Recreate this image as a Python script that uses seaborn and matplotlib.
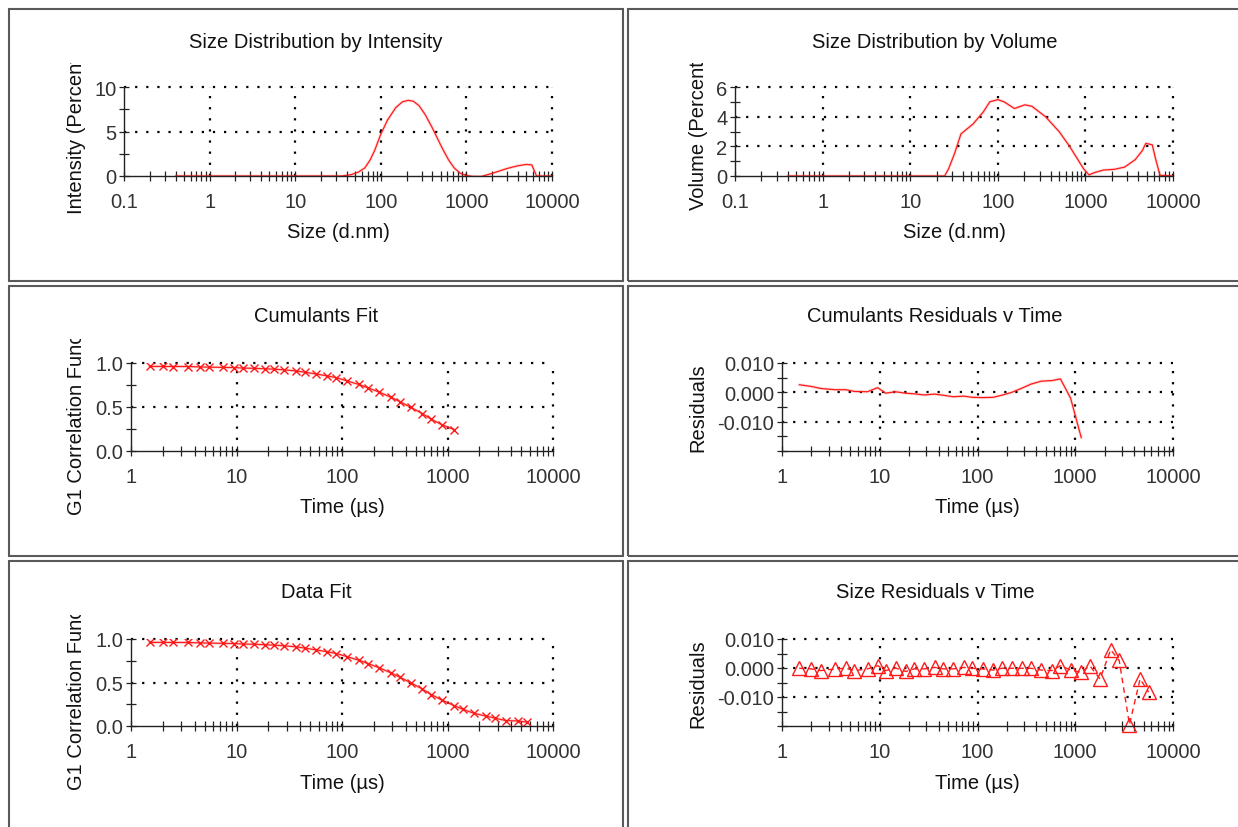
import matplotlib
matplotlib.use("Agg")
import matplotlib.pyplot as plt
import seaborn as sns
import numpy as np
from matplotlib.patches import Rectangle
from matplotlib.transforms import Bbox
from matplotlib.ticker import FixedLocator, FuncFormatter, NullFormatter, LogLocator

# ---- data ----
size_int = [0.4, 1, 10, 35, 45, 55, 65, 75, 85, 100, 120, 150, 180, 210, 240, 280, 330,
            400, 460, 530, 620, 720, 850, 1000, 1200, 1500, 2000, 2500, 3000, 4000, 5000,
            5800, 6600, 7000, 10000]
intensity = [0, 0, 0, 0, 0.15, 0.45, 0.9, 1.8, 2.9, 4.7, 6.3, 7.7, 8.35, 8.5, 8.4, 7.9, 6.9,
             5.4, 4.2, 3.0, 1.8, 0.9, 0.3, 0.05, -0.05, -0.05, 0.3, 0.6, 0.85, 1.15, 1.3,
             1.25, 0.0, 0, 0]

size_vol = [0.4, 10, 24.7, 27.5, 32, 38, 52, 68, 81, 100, 118, 155, 204, 245, 350, 500, 660,
            950, 1100, 1230, 1600, 2140, 2800, 3700, 4450, 4900, 5800, 6300, 7100, 10000]
volume = [0, 0, 0, 0.5, 1.5, 2.84, 3.5, 4.3, 5.0, 5.15, 5.0, 4.55, 4.8, 4.7, 4.0, 3.0, 2.0,
          0.5, 0.07, 0.2, 0.4, 0.45, 0.6, 1.1, 1.7, 2.2, 2.1, 1.2, 0.05, 0]

corr_time = [1.5, 2, 2.5, 3.5, 4.5, 5.5, 7.5, 9.5, 11.5, 14.5, 18.5, 22.5, 28.5, 36.5, 44.5,
             56.5, 72.5, 88.5, 112.5, 144.5, 176.5, 224.5, 288.5, 352.5, 448.5, 576.5, 704.5,
             896.5, 1152.5, 1408.5, 1792.5, 2304.5, 2816.5, 3584.5, 4608.5, 5632.5]

cum_fit = [0.961, 0.961, 0.960, 0.960, 0.955, 0.953, 0.950, 0.948, 0.942, 0.940, 0.934, 0.930,
           0.922, 0.910, 0.895, 0.876, 0.853, 0.833, 0.795, 0.756, 0.717, 0.670, 0.612, 0.562,
           0.496, 0.426, 0.360, 0.295, 0.244]

data_fit = [0.961, 0.961, 0.960, 0.960, 0.955, 0.953, 0.950, 0.948, 0.942, 0.940, 0.934, 0.930,
            0.922, 0.910, 0.895, 0.876, 0.853, 0.833, 0.795, 0.756, 0.717, 0.670, 0.612, 0.562,
            0.496, 0.426, 0.360, 0.295, 0.235, 0.19, 0.145, 0.115, 0.09, 0.062, 0.058, 0.045]

cum_resid = [0.0026, 0.0020, 0.0013, 0.0009, 0.0009, 0.0003, 0.0002, 0.0016, -0.0003, 0.0002,
             -0.0003, -0.0005, -0.0009, -0.0006, -0.0010, -0.0015, -0.0013, -0.0017, -0.0018,
             -0.0017, -0.0010, 0.0000, 0.0015, 0.0028, 0.0038, 0.0040, 0.0046, -0.0020, -0.0155]

size_resid = [-0.0001, -0.0003, -0.0009, -0.0003, -0.0001, -0.0009, -0.0003, 0.0008, -0.0009,
              0.0, -0.0012, -0.0003, -0.0003, 0.0002, -0.0003, -0.0003, 0.0002, -0.0001,
              -0.0003, -0.0007, -0.0001, -0.0001, -0.0001, -0.0001, -0.0007, -0.0009, 0.0008,
              -0.0007, -0.0015, 0.0008, -0.0038, 0.0063, 0.0026, -0.0195, -0.0038, -0.0083]

size_ticks = [0.1, 1, 10, 100, 1000, 10000]
time_ticks = [1, 10, 100, 1000, 10000]

int_yticks, int_ylabels, int_yminor = [0, 5, 10], ["0", "5", "10"], [2.5, 7.5]
vol_yticks, vol_ylabels, vol_yminor = [0, 2, 4, 6], ["0", "2", "4", "6"], [1, 3, 5]
g1_yticks, g1_ylabels, g1_yminor = [0, 0.5, 1.0], ["0.0", "0.5", "1.0"], [0.25, 0.75]
res_yticks, res_ylabels, res_yminor = [-0.01, 0, 0.01], ["-0.010", "0.000", "0.010"], [-0.02, -0.015, -0.005, 0.005]

titles = ["Size Distribution by Intensity", "Size Distribution by Volume",
          "Cumulants Fit", "Cumulants Residuals v Time",
          "Data Fit", "Size Residuals v Time"]
ylabels = ["Intensity (Percent)", "Volume (Percent)",
           "G1 Correlation Function", "Residuals",
           "G1 Correlation Function", "Residuals"]
xlabels = ["Size (d.nm)", "Size (d.nm)", "Time (\u00b5s)", "Time (\u00b5s)", "Time (\u00b5s)", "Time (\u00b5s)"]

# ---- style ----
sns.set_style("white")
plt.rcParams["font.family"] = ["Liberation Sans", "DejaVu Sans"]
RED = "#ff1a1a"
FS = 14.5

W, H = 1238, 828
fig = plt.figure(figsize=(W / 100, H / 100), dpi=100)
fig.patch.set_facecolor("white")

# panel boxes (left, top, right, bottom) in pixels
boxes = [(9, 10, 623, 282), (628, 10, 1242, 282),
         (9, 287, 623, 557), (628, 287, 1242, 557),
         (9, 562, 623, 840), (628, 562, 1242, 840)]
# axes areas in pixels
areas = [(124, 88, 552, 177), (735, 88, 1173, 177),
         (131, 364, 553, 452), (782, 364, 1173, 452),
         (131, 640, 553, 727), (782, 640, 1173, 727)]
title_y = [42, 42, 317, 317, 593, 593]
xlabel_y = [233, 233, 508, 508, 784, 784]
ylabel_x = [76, 698, 76, 698, 76, 698]


def px_axes(l, t, r, b):
    return fig.add_axes([l / W, 1 - b / H, (r - l) / W, (b - t) / H])


def style(ax, xlim, xticks, ylim, yticks, ylabs, yminor):
    ax.set_xscale("log")
    ax.set_xlim(*xlim)
    ax.set_ylim(*ylim)
    ax.xaxis.set_major_locator(FixedLocator(xticks))
    ax.xaxis.set_minor_locator(LogLocator(base=10, subs=np.arange(2, 10), numticks=20))
    ax.xaxis.set_major_formatter(FuncFormatter(lambda v, p: f"{v:g}"))
    ax.xaxis.set_minor_formatter(NullFormatter())
    ax.yaxis.set_major_locator(FixedLocator(yticks))
    ax.set_yticklabels(ylabs)
    ax.yaxis.set_minor_locator(FixedLocator(yminor))
    ax.grid(False)
    for s in ["top", "right"]:
        ax.spines[s].set_visible(False)
    for s in ["left", "bottom"]:
        ax.spines[s].set_color("#222222")
        ax.spines[s].set_linewidth(1.0)
    ax.tick_params(which="both", bottom=True, left=True, top=False, right=False,
                   direction="inout", length=7, width=0.9, color="#222222")
    ax.tick_params(axis="x", which="major", pad=8, labelsize=FS, labelcolor="#333333")
    ax.tick_params(axis="y", which="major", pad=2, labelsize=FS, labelcolor="#333333")
    dot = (0, (1, 4))
    for xv in xticks[1:]:
        ax.axvline(xv, color="black", lw=1.6, ls=dot, clip_on=False, zorder=0.5)
    for yv in yticks:
        if yv > ylim[0]:
            ax.axhline(yv, color="black", lw=1.6, ls=dot, clip_on=False, zorder=0.5)


def red_line(ax, x, y, **kw):
    sns.lineplot(x=x, y=y, ax=ax, color=RED, lw=2.2, alpha=0.15, errorbar=None, sort=False, legend=False)
    sns.lineplot(x=x, y=y, ax=ax, color=RED, lw=0.9, errorbar=None, sort=False, legend=False, **kw)


axes = [px_axes(*a) for a in areas]

# 1 intensity
ax = axes[0]
style(ax, (0.1, 10000), size_ticks, (0, 10), int_yticks, int_ylabels, int_yminor)
red_line(ax, size_int, intensity)

# 2 volume
ax = axes[1]
style(ax, (0.1, 10000), size_ticks, (0, 6), vol_yticks, vol_ylabels, vol_yminor)
red_line(ax, size_vol, volume)

# 3 cumulants fit
ax = axes[2]
style(ax, (1, 10000), time_ticks, (0, 1), g1_yticks, g1_ylabels, g1_yminor)
red_line(ax, corr_time[:len(cum_fit)], cum_fit, marker="x", markersize=6,
         markeredgewidth=1.0, markeredgecolor=RED)

# 4 cumulants residuals
ax = axes[3]
style(ax, (1, 10000), time_ticks, (-0.02, 0.01), res_yticks, res_ylabels, res_yminor)
red_line(ax, corr_time[:len(cum_resid)], cum_resid)

# 5 data fit
ax = axes[4]
style(ax, (1, 10000), time_ticks, (0, 1), g1_yticks, g1_ylabels, g1_yminor)
red_line(ax, corr_time, data_fit, marker="x", markersize=6,
         markeredgewidth=1.0, markeredgecolor=RED)

# 6 size residuals
ax = axes[5]
style(ax, (1, 10000), time_ticks, (-0.02, 0.01), res_yticks, res_ylabels, res_yminor)
sns.lineplot(x=corr_time, y=size_resid, ax=ax, color=RED, lw=1.0, linestyle=(0, (4, 3)),
             marker="^", markersize=9.5, markerfacecolor="none", markeredgecolor=RED,
             markeredgewidth=1.0, errorbar=None, sort=False, legend=False, clip_on=False)

# boxes, titles, labels
for i, (bl, bt, br, bb) in enumerate(boxes):
    fig.patches.append(Rectangle((bl / W, 1 - bb / H), (br - bl) / W, (bb - bt) / H,
                                 transform=fig.transFigure, fill=False,
                                 edgecolor="#5a5a5a", lw=1.5, zorder=0))
    cx = (bl + br) / 2
    fig.text(cx / W, 1 - title_y[i] / H, titles[i], ha="center", va="center",
             fontsize=FS, color="#111111")
    l, t, r, b = areas[i]
    fig.text(((l + r) / 2) / W, 1 - xlabel_y[i] / H, xlabels[i], ha="center", va="center",
             fontsize=FS, color="#111111")
    yl = fig.text(ylabel_x[i] / W, 1 - ((t + b) / 2) / H, ylabels[i], ha="center", va="center",
                  rotation=90, fontsize=FS, color="#111111")
    yl.set_clip_box(Bbox.from_extents(bl, H - bb, br, H - (t - 24)))
    yl.set_clip_on(True)

fig.savefig("out.png", dpi=100, facecolor="white")
